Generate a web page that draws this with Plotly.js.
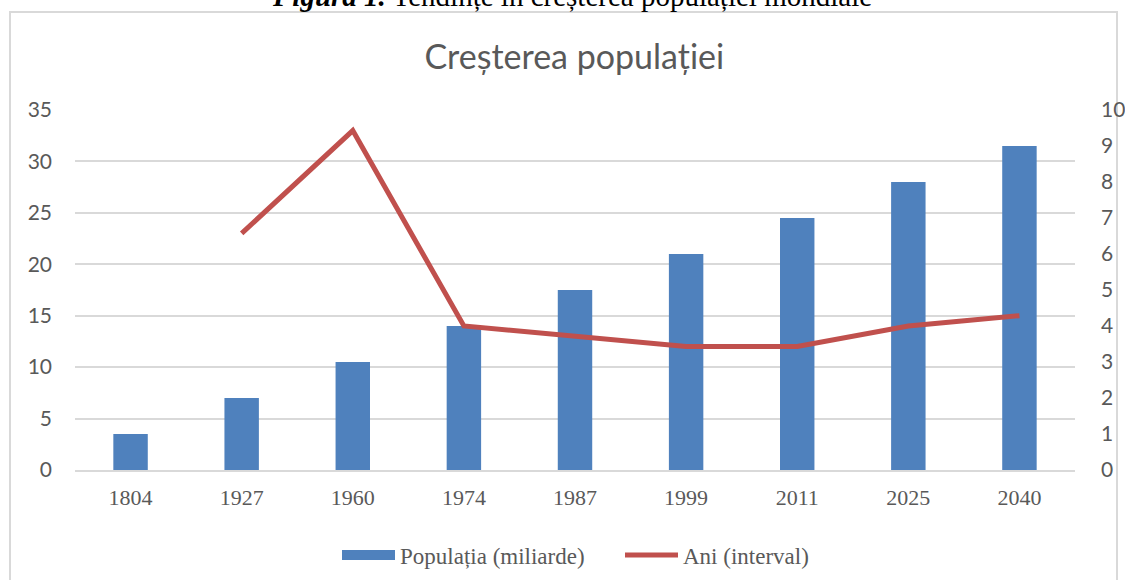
<!DOCTYPE html>
<html>
<head>
<meta charset="utf-8">
<script src="https://cdn.plot.ly/plotly-3.0.1.min.js"></script>
<style>html,body{margin:0;padding:0;background:#fff;}#chart{width:1125px;height:580px;}</style>
</head>
<body>
<div id="chart"></div>
<script>
const years = ["1804","1927","1960","1974","1987","1999","2011","2025","2040"];
const populationBillions = [1, 2, 3, 4, 5, 6, 7, 8, 9];
const intervalYears = [null, 23, 33, 14, 13, 12, 12, 14, 15];
const seriesNames = ["Populația (miliarde)", "Ani (interval)"];
const chartTitle = "Creșterea populației";
const figureCaptionBold = "Figura 1.";
const figureCaptionRest = " Tendințe în creșterea populației mondiale";

const grey = "#595959";
const barColor = "#4F81BD";
const lineColor = "#C0504D";
const traces = [
  {
    type: "bar", x: years, y: populationBillions, name: seriesNames[0], showlegend: false,
    legendgroup: "pop", marker: {color: barColor}, width: 0.31, yaxis: "y", hoverinfo: "skip"
  },
  {
    // legend entry only (wide rectangle symbol like the reference)
    type: "scatter", mode: "lines", x: [null], y: [null], name: seriesNames[0],
    legendgroup: "pop", line: {color: barColor, width: 10}, yaxis: "y", hoverinfo: "skip"
  },
  {
    type: "scatter", mode: "lines", x: years, y: intervalYears, name: seriesNames[1],
    line: {color: lineColor, width: 5}, yaxis: "y2", connectgaps: false, hoverinfo: "skip"
  }
];
const layout = {
  width: 1125, height: 580,
  margin: {l: 75, r: 50, t: 110, b: 110, autoexpand: false},
  paper_bgcolor: "#fff", plot_bgcolor: "rgba(0,0,0,0)",
  showlegend: true,
  title: {text: chartTitle, x: 0.5105, xanchor: "center", y: 0.902, yanchor: "middle",
          font: {family: "Lato", size: 34, color: grey}},
  xaxis: {type: "category", showline: true, linecolor: "#d9d9d9", linewidth: 1.5,
          ticks: "", showgrid: false, zeroline: false, ticklabelstandoff: 7,
          tickfont: {family: "Liberation Serif", size: 22, color: grey}},
  yaxis: {range: [0, 10], dtick: 1, side: "right", showgrid: false, zeroline: false,
          showline: false, ticks: "", ticklabelstandoff: 25,
          tickfont: {family: "Lato", size: 21, color: grey}},
  yaxis2: {range: [0, 35], dtick: 5, side: "left", overlaying: "y", showgrid: true,
           gridcolor: "#d9d9d9", gridwidth: 2, zeroline: false, showline: false,
           ticks: "", ticklabelstandoff: 22,
           tickfont: {family: "Lato", size: 21, color: grey}},
  legend: {orientation: "h", x: 0.262, xanchor: "left", y: -0.236, yanchor: "middle",
           font: {family: "Liberation Serif", size: 23, color: grey}, itemwidth: 53,
           entrywidth: 215, entrywidthmode: "pixels", traceorder: "normal"},
  bargap: 0.69,
  shapes: [{type: "rect", xref: "paper", yref: "paper", x0: -0.065, x1: 1.042,
            y0: -0.4, y1: 1.2722, line: {color: "#d9d9d9", width: 2}, fillcolor: "rgba(0,0,0,0)", layer: "below"}],
  annotations: [{xref: "paper", yref: "paper", x: 0.497, y: 1.268, xanchor: "center", yanchor: "bottom",
                 showarrow: false, text: "<b><i>" + figureCaptionBold + "</i></b>" + figureCaptionRest,
                 font: {family: "Liberation Serif", size: 29, color: "#000"}}]
};
Plotly.newPlot("chart", traces, layout, {staticPlot: true, displayModeBar: false});
</script>
</body>
</html>
